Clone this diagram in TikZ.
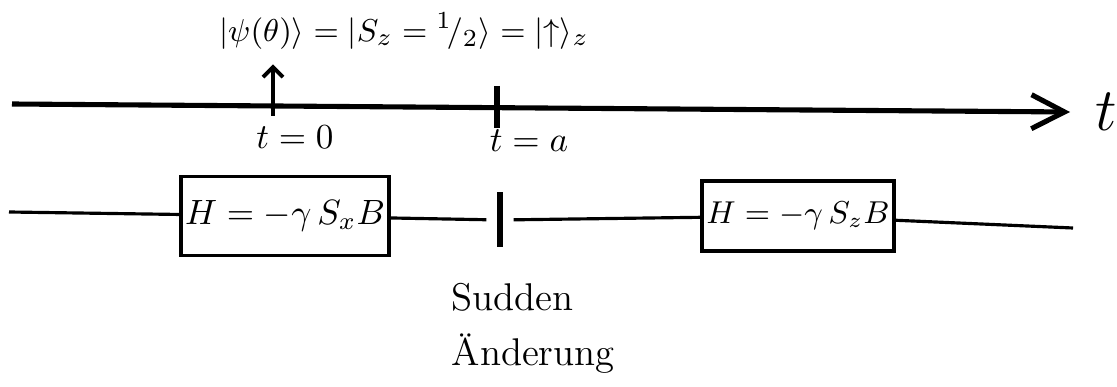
\documentclass[tikz,border=0pt]{standalone}
\usepackage{amsmath}
\usepackage{tikz}
\usetikzlibrary{arrows.meta}
\tikzset{
  label_node/.style = {align=center, inner sep=0pt, text centered},
  ham_node/.style = {label_node, rectangle, draw=black, line width=1.1pt,
    inner sep=0.4mm},% boite, hamiltonien
  jump_node/.style = {rectangle, fill=black, inner sep=0pt,
    minimum width=0.6mm, minimum height=5.5mm},% changement brusque
  axis_line/.style = {line width=1.45pt,
    -{Straight Barb[length=3.3mm, width=3.4mm, line width=1.45pt]}},% axe du temps
  wire_line/.style = {line width=0.9pt}% ligne du bas
}

\begin{document}
\begin{tikzpicture}[x=0.1mm, y=-0.1mm]
  \useasboundingbox (0,0) rectangle (1117,387);
  % axe du temps
  \coordinate (ax_start) at (12,104);
  \coordinate (ax_end) at (1070,112);
  \draw[axis_line] (ax_start) -- (ax_end);
  \node [label_node, font=\LARGE] (t_label) at (1106,112) {$t$};
  % etat initial
  \node [label_node, font=\fontsize{9.5}{11}\selectfont] (psi) at (404,31)
    {$|\psi(\theta)\rangle = |S_z={}^1\!/_2\rangle = |{\uparrow}\rangle_z$};
  \coordinate (tick_zero) at (273,116);
  \draw [line width=1.1pt, shorten >=1.4mm,
    -{Straight Barb[length=1mm, width=2mm]}] (tick_zero) -- (tick_zero |- psi.south);
  \coordinate (tick_a) at (497,86);
  \coordinate (tick_a_end) at (497,128);
  \draw [line width=1.6pt] (tick_a) -- (tick_a_end);
  \node [label_node] (t_zero) at (295,137) {$t=0$};
  \node [label_node] (t_a) at (529,141) {$t=a$};
  % ligne du bas
  \coordinate (w_start) at (9,212);
  \coordinate (w_end) at (1073,228);
  \node [ham_node, minimum width=20.2mm, minimum height=7.9mm] (ham_x) at (285,216)
    {$H = -\gamma\, S_x B$};
  \node [jump_node] (jump) at (500,220) {};
  \node [ham_node, font=\small, minimum width=17.8mm, minimum height=7mm] (ham_z) at (798,216)
    {$H = -\gamma\, S_z B$};
  \draw [wire_line] (w_start) -- (ham_x);
  \draw [wire_line, shorten >=1mm] (ham_x) -- (jump);
  \draw [wire_line, shorten <=1mm] (jump) -- (ham_z);
  \draw [wire_line] (ham_z) -- (w_end);
  \node [label_node, align=left, anchor=north west,
    font=\fontsize{11}{15.5}\selectfont] (change) at (451,283) {Sudden\\Änderung};
\end{tikzpicture}
\end{document}
